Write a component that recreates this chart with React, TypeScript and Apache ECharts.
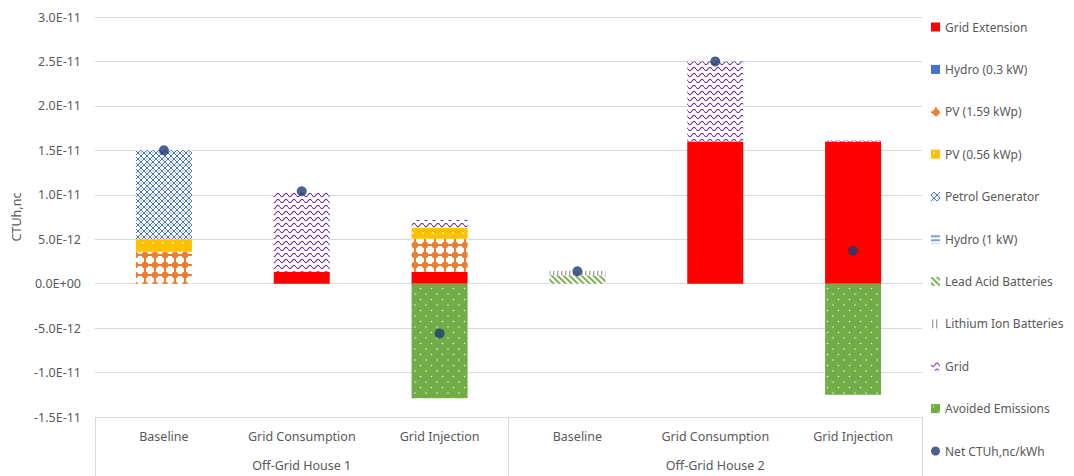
import React, { useEffect, useRef } from "react";
import * as echarts from "echarts";

// Values in units of 1E-12 CTUh,nc
const categories = ["Baseline", "Grid Consumption", "Grid Injection", "Baseline", "Grid Consumption", "Grid Injection"];
const groups = ["Off-Grid House 1", "Off-Grid House 2"];
const gridExtension = [0, 1.35, 1.35, 0, 16.0, 16.0];
const hydro03 = [0, 0, 0, 0, 0, 0];
const pv159 = [3.6, 0, 3.7, 0, 0, 0];
const pv056 = [1.4, 0, 1.2, 0, 0, 0];
const petrol = [10.0, 0, 0, 0, 0, 0];
const hydro1 = [0, 0, 0, 0, 0, 0];
const leadAcid = [0, 0, 0, 0.95, 0, 0];
const lithium = [0, 0, 0, 0.5, 0, 0];
const gridMix = [0, 8.95, 0.95, 0, 9.0, 0.1];
const avoided = [0, 0, -12.9, 0, 0, -12.5];
const net = [15.0, 10.4, -5.6, 1.4, 25.0, 3.7];
const yTicks = { min: -15, max: 30, interval: 5 };

function fmt(v: number): string {
  if (Math.abs(v) < 1e-9) return "0.0E+00";
  const s = (v * 1e-12).toExponential(1);
  const [m, e] = s.split("e");
  const sign = e[0] === "-" ? "-" : "+";
  const d = e.replace(/[+-]/, "").padStart(2, "0");
  return m + "E" + sign + d;
}

function makePattern(w: number, h: number, draw: (ctx: CanvasRenderingContext2D) => void) {
  const c = document.createElement("canvas");
  c.width = w;
  c.height = h;
  const ctx = c.getContext("2d")!;
  draw(ctx);
  return { image: c, repeat: "repeat" as const };
}

export default function App() {
  const ref = useRef<HTMLDivElement>(null);
  useEffect(() => {
    if (!ref.current) return;
    const chart = echarts.init(ref.current, null, { renderer: "svg" });
    const font = "'Noto Sans', sans-serif";
    const txt = "#595959";

    const pvBig = makePattern(10, 10, (c) => {
      c.fillStyle = "#fff";
      c.fillRect(0, 0, 10, 10);
      c.fillStyle = "#ED7D31";
      c.beginPath();
      c.arc(5, 5, 3.3, 0, Math.PI * 2);
      c.fill();
      c.fillRect(4, 0, 2, 10);
      c.fillRect(0, 4, 10, 2);
    });
    const pvSmall = makePattern(10, 10, (c) => {
      c.fillStyle = "#FFC000";
      c.fillRect(0, 0, 10, 10);
      c.fillStyle = "rgba(255,255,255,0.85)";
      c.beginPath();
      c.arc(3, 3, 0.9, 0, Math.PI * 2);
      c.fill();
    });
    const petrolP = makePattern(6, 6, (c) => {
      c.fillStyle = "#fff";
      c.fillRect(0, 0, 6, 6);
      c.strokeStyle = "#4472C4";
      c.lineWidth = 1;
      c.beginPath();
      c.moveTo(0, 3); c.lineTo(3, 0); c.lineTo(6, 3); c.lineTo(3, 6); c.closePath();
      c.stroke();
      c.fillStyle = "#4472C4";
      c.fillRect(2.5, 2.5, 1, 1);
    });
    const gridP = makePattern(8, 6, (c) => {
      c.fillStyle = "#fff";
      c.fillRect(0, 0, 8, 6);
      c.strokeStyle = "#7030A0";
      c.lineWidth = 1.1;
      c.beginPath();
      for (let x = 0; x <= 8; x += 0.5) {
        const y = 3 + 1.6 * Math.sin((x / 8) * Math.PI * 2);
        if (x === 0) c.moveTo(x, y); else c.lineTo(x, y);
      }
      c.stroke();
    });
    const leadP = makePattern(6, 6, (c) => {
      c.fillStyle = "#fff";
      c.fillRect(0, 0, 6, 6);
      c.strokeStyle = "#70AD47";
      c.lineWidth = 1.8;
      c.beginPath();
      c.moveTo(-1, -1); c.lineTo(7, 7);
      c.moveTo(-1, 5); c.lineTo(1, 7);
      c.moveTo(5, -1); c.lineTo(7, 1);
      c.stroke();
    });
    const lithP = makePattern(4, 4, (c) => {
      c.fillStyle = "#fff";
      c.fillRect(0, 0, 4, 4);
      c.fillStyle = "#A5A5A5";
      c.fillRect(1, 0, 1.4, 4);
    });
    const hydro1P = makePattern(4, 4, (c) => {
      c.fillStyle = "#fff";
      c.fillRect(0, 0, 4, 4);
      c.fillStyle = "#4472C4";
      c.fillRect(0, 1, 4, 1.4);
    });
    const avoidedP = makePattern(11, 11, (c) => {
      c.fillStyle = "#70AD47";
      c.fillRect(0, 0, 11, 11);
      c.fillStyle = "rgba(255,255,255,0.85)";
      c.beginPath();
      c.arc(2.5, 2.5, 0.8, 0, Math.PI * 2);
      c.arc(8, 8, 0.8, 0, Math.PI * 2);
      c.fill();
    });

    const barDefs: [string, number[], any][] = [
      ["Grid Extension", gridExtension, "#FF0000"],
      ["Hydro (0.3 kW)", hydro03, "#4472C4"],
      ["PV (1.59 kWp)", pv159, pvBig],
      ["PV (0.56 kWp)", pv056, pvSmall],
      ["Petrol Generator", petrol, petrolP],
      ["Hydro (1 kW)", hydro1, hydro1P],
      ["Lead Acid Batteries", leadAcid, leadP],
      ["Lithium Ion Batteries", lithium, lithP],
      ["Grid", gridMix, gridP],
      ["Avoided Emissions", avoided, avoidedP],
    ];

    const series: any[] = barDefs.map(([name, data, color]) => ({
      name,
      type: "bar",
      stack: "total",
      barWidth: 56,
      data,
      itemStyle: { color },
    }));
    series.push({
      name: "Net CTUh,nc/kWh",
      type: "scatter",
      data: net,
      symbol: "circle",
      symbolSize: 10,
      z: 5,
      itemStyle: { color: "#1F3A70" },
    });

    chart.setOption({
      animation: false,
      textStyle: { fontFamily: font },
      grid: { left: 95, right: 152, top: 17, bottom: 59, containLabel: false },
      legend: {
        orient: "vertical",
        left: 926,
        top: 15,
        itemWidth: 9,
        itemHeight: 9,
        itemGap: 28.4,
        selectedMode: false,
        icon: "rect",
        textStyle: { color: txt, fontSize: 12, fontFamily: font, lineHeight: 14 },
        data: [...barDefs.map((d) => d[0]), { name: "Net CTUh,nc/kWh", icon: "circle" }],
      },
      xAxis: [
        {
          type: "category",
          data: categories,
          position: "bottom",
          axisLine: { show: true, lineStyle: { color: "#d9d9d9" } },
          axisTick: { show: false },
          axisLabel: { color: txt, fontSize: 12.5, margin: 13, interval: 0, fontFamily: font },
          splitLine: { show: false },
        },
        {
          type: "category",
          data: groups,
          position: "bottom",
          axisLine: { show: false },
          axisTick: { show: true, length: 59, interval: 0, lineStyle: { color: "#d9d9d9" } },
          axisLabel: { color: txt, fontSize: 12.5, margin: 42, interval: 0, fontFamily: font },
          splitLine: { show: false },
        },
      ],
      yAxis: {
        type: "value",
        min: yTicks.min,
        max: yTicks.max,
        interval: yTicks.interval,
        name: "CTUh,nc",
        nameLocation: "middle",
        nameGap: 70,
        nameTextStyle: { color: txt, fontSize: 12.5, fontFamily: font },
        axisLine: { show: false },
        axisTick: { show: false },
        axisLabel: { color: txt, fontSize: 12.5, margin: 14, formatter: fmt, fontFamily: font },
        splitLine: { lineStyle: { color: "#d9d9d9" } },
      },
      series,
    });
    return () => chart.dispose();
  }, []);
  return (
    <div
      ref={ref}
      style={{ position: "absolute", left: 0, top: 0, width: 1074, height: 476, background: "#fff" }}
    />
  );
}
